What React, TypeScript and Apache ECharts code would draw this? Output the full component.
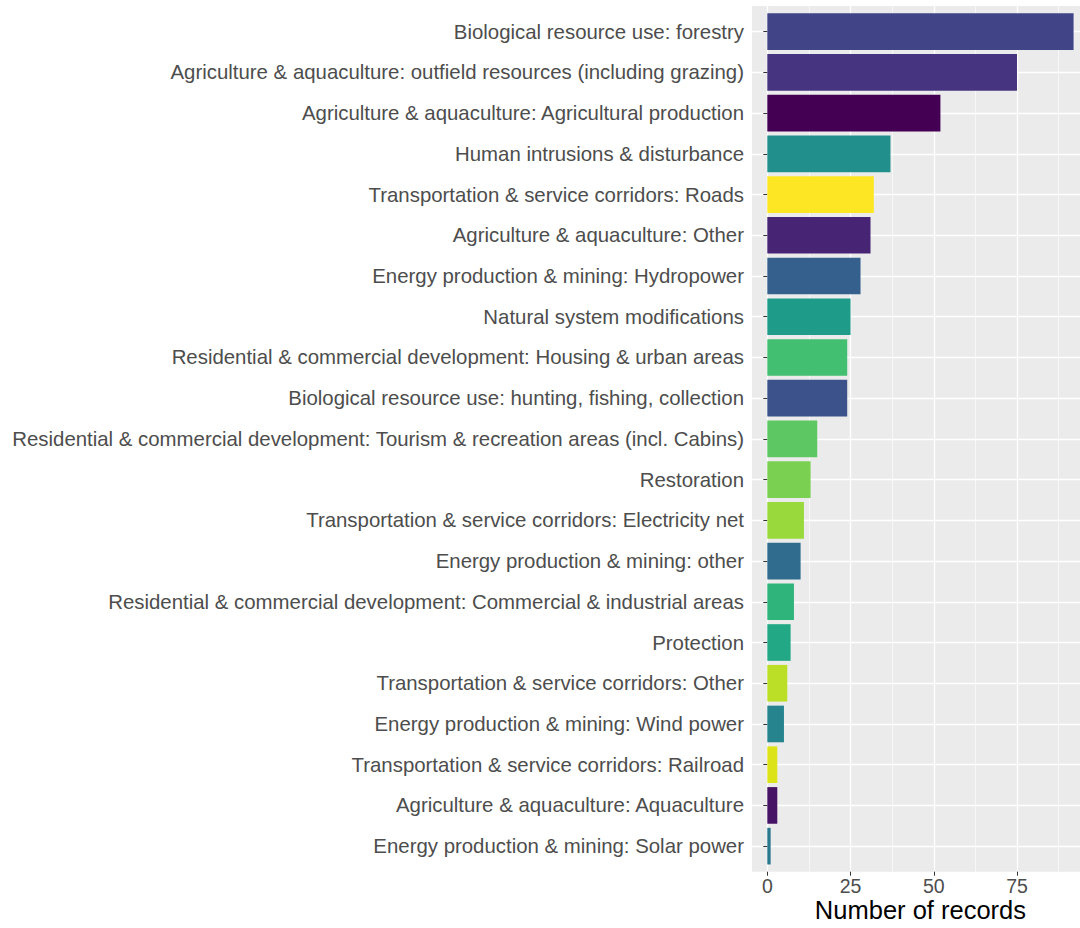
import React, { useEffect, useRef } from "react";
import * as echarts from "echarts";

// Categories in display order (top to bottom)
const categories: string[] = [
  "Biological resource use: forestry",
  "Agriculture & aquaculture: outfield resources (including grazing)",
  "Agriculture & aquaculture: Agricultural production",
  "Human intrusions & disturbance",
  "Transportation & service corridors: Roads",
  "Agriculture & aquaculture: Other",
  "Energy production & mining: Hydropower",
  "Natural system modifications",
  "Residential & commercial development: Housing & urban areas",
  "Biological resource use: hunting, fishing, collection",
  "Residential & commercial development: Tourism & recreation areas (incl. Cabins)",
  "Restoration",
  "Transportation & service corridors: Electricity net",
  "Energy production & mining: other",
  "Residential & commercial development: Commercial & industrial areas",
  "Protection",
  "Transportation & service corridors: Other",
  "Energy production & mining: Wind power",
  "Transportation & service corridors: Railroad",
  "Agriculture & aquaculture: Aquaculture",
  "Energy production & mining: Solar power",
];

// Number of records per category
const records: number[] = [92, 75, 52, 37, 32, 31, 28, 25, 24, 24, 15, 13, 11, 10, 8, 7, 6, 5, 3, 3, 1];

// X axis tick values
const xTicks: number[] = [0, 25, 50, 75];

const axisTitle = "Number of records";

// viridis(21) palette, assigned to categories in alphabetical order (as ggplot does)
const viridis21: string[] = [
  "#440154", "#471365", "#482475", "#463480", "#414487", "#3B528B", "#355F8D",
  "#2F6C8E", "#2A788E", "#25848E", "#21908C", "#1E9C89", "#22A884", "#2FB47C",
  "#43BF71", "#5DC863", "#7AD151", "#9AD93C", "#BBDF27", "#DCE318", "#FDE725",
];

const FONT = "'Liberation Sans', Arial, sans-serif";

export default function App() {
  const ref = useRef<HTMLDivElement | null>(null);

  useEffect(() => {
    if (!ref.current) return;
    const chart = echarts.init(ref.current, undefined, { renderer: "svg" });

    const sorted = [...categories].sort((a, b) => a.localeCompare(b, "en"));
    const colorFor = (c: string) => viridis21[sorted.indexOf(c) % viridis21.length];

    const xMin = -0.05 * Math.max(...records);
    const xMax = Math.max(...records) * 1.05;
    const pxPerUnit = 3.329;
    const tickStep = xTicks[1] - xTicks[0];
    const gridBMax = xTicks[xTicks.length - 1] + tickStep;

    const option: any = {
      animation: false,
      textStyle: { fontFamily: FONT },
      grid: [
        { left: 752, width: (xMax - xMin) * pxPerUnit, top: 11.3, height: 856.8 },
        { left: 752 - xMin * pxPerUnit, width: gridBMax * pxPerUnit, top: 6, height: 865.7 },
        {
          left: 752, width: (xMax - xMin) * pxPerUnit, top: 6, height: 865.7,
          show: true, backgroundColor: "#EBEBEB", borderWidth: 0,
        },
      ],
      xAxis: [
        {
          gridIndex: 0, type: "value", min: xMin, max: xMax,
          axisLine: { show: false }, axisTick: { show: false },
          axisLabel: { show: false }, splitLine: { show: false },
          name: axisTitle, nameLocation: "middle", nameGap: 31.5,
          nameTextStyle: { fontSize: 25.5, lineHeight: 24, color: "#000000", fontFamily: FONT },
        },
        {
          gridIndex: 1, type: "value", min: 0, max: gridBMax, interval: tickStep,
          axisLine: { show: false },
          axisTick: { show: true, length: 4, lineStyle: { color: "#333333", width: 1 } },
          axisLabel: {
            fontSize: 19.5, lineHeight: 18, color: "#4D4D4D", margin: 5.5, fontFamily: FONT,
            formatter: (v: number) => (xTicks.includes(v) ? String(v) : ""),
          },
          splitLine: { show: true, lineStyle: { color: "#FFFFFF", width: 1.3 } },
          minorTick: { show: false, splitNumber: 2 },
          minorSplitLine: { show: true, lineStyle: { color: "#FFFFFF", width: 0.6 } },
        },
        { gridIndex: 2, type: "value", show: false },
      ],
      yAxis: [
        {
          gridIndex: 0, type: "category", data: categories, inverse: true,
          axisLine: { show: false },
          axisTick: { show: true, alignWithLabel: true, interval: 0, length: 4, lineStyle: { color: "#333333", width: 1 } },
          axisLabel: { fontSize: 20.4, color: "#4D4D4D", margin: 8, interval: 0, fontFamily: FONT },
          splitLine: { show: true, alignWithLabel: true, interval: 0, lineStyle: { color: "#FFFFFF", width: 1.3 } },
        },
        { gridIndex: 1, type: "value", show: false },
        { gridIndex: 2, type: "value", show: false },
      ],
      series: [
        {
          type: "bar",
          xAxisIndex: 0,
          yAxisIndex: 0,
          barWidth: "90%",
          data: records.map((v, i) => ({ value: v, itemStyle: { color: colorFor(categories[i]) } })),
        },
      ],
    };

    chart.setOption(option);
    return () => chart.dispose();
  }, []);

  return (
    <div style={{ position: "absolute", left: 0, top: 0, width: 1080, height: 928, overflow: "hidden", background: "#FFFFFF" }}>
      <div ref={ref} style={{ position: "absolute", left: 0, top: 0, width: 1120, height: 928 }} />
    </div>
  );
}
